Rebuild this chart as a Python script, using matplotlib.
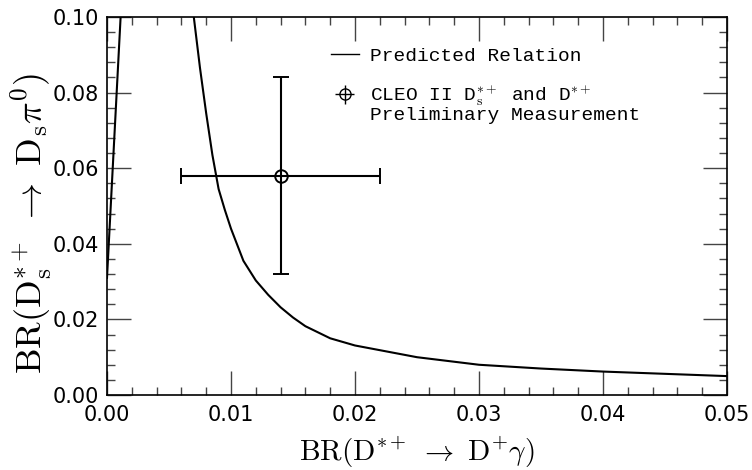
import numpy as np
import matplotlib
matplotlib.use('Agg')
import matplotlib.pyplot as plt
from matplotlib.lines import Line2D


# ------- Data -------

# predicted relation, low branch (near x = 0)
x_low = [0.0, 0.00115]
y_low = [0.031, 0.1033]

# predicted relation, main branch
x_pred = [0.0069, 0.0070, 0.0075, 0.0080, 0.0085, 0.0090, 0.0095, 0.0100,
          0.0110, 0.0120, 0.0130, 0.0140, 0.0150, 0.0160, 0.0180, 0.0200,
          0.0250, 0.0300, 0.0350, 0.0400, 0.0450, 0.0500]
y_pred = [0.1027, 0.1000, 0.0865, 0.0745, 0.0635, 0.0545, 0.0490, 0.0440,
          0.0355, 0.0303, 0.0265, 0.0232, 0.0205, 0.0182, 0.0150, 0.0131,
          0.0100, 0.0080, 0.0070, 0.0062, 0.0056, 0.0050]

# CLEO II measurement
x_meas = [0.014]
y_meas = [0.058]
x_err = [0.008]
y_err = [0.026]

x_ticks = [0.00, 0.01, 0.02, 0.03, 0.04, 0.05]
y_ticks = [0.00, 0.02, 0.04, 0.06, 0.08, 0.10]


# ------- Figure -------

plt.rcParams['mathtext.fontset'] = 'cm'
plt.rcParams['font.family'] = 'DejaVu Sans'

fig = plt.figure(figsize=(7.52, 4.70), dpi=100)
ax = fig.add_axes([107/752, 75/470, 620/752, 378/470])

ax.plot(x_low, y_low, color='black', linewidth=1.5)
ax.plot(x_pred, y_pred, color='black', linewidth=1.5)

ax.errorbar(x_meas, y_meas, xerr=x_err, yerr=y_err, fmt='o', color='black',
            mfc='none', mec='black', ms=9, mew=1.4, elinewidth=1.5,
            capsize=6, capthick=1.5)

ax.set_xlim(0, 0.05)
ax.set_ylim(0, 0.10)
ax.set_xticks(x_ticks)
ax.set_yticks(y_ticks)
ax.set_xticklabels(['%.2f' % v for v in x_ticks])
ax.set_yticklabels(['%.2f' % v for v in y_ticks])
ax.set_xticks(np.arange(0, 0.0501, 0.002), minor=True)
ax.set_yticks(np.arange(0, 0.1001, 0.004), minor=True)

ax.tick_params(which='both', direction='in', top=True, right=True, color='#444444')
ax.tick_params(which='major', length=17, width=1.0, labelsize=15)
ax.tick_params(which='minor', length=6, width=1.0)
ax.tick_params(axis='x', which='major', pad=7)
ax.tick_params(axis='y', which='major', pad=6)
for s in ax.spines.values():
    s.set_linewidth(1.2)

ax.set_xlabel(r'$\mathrm{BR(D^{*+}\ \rightarrow\ D^{+}\gamma)}$', fontsize=21)
ax.xaxis.set_label_coords(0.5, -0.106)
ax.xaxis.label.set_va('top')
ax.set_ylabel(r'$\mathrm{BR(D_s^{*+}\ \rightarrow\ D_s\pi^0)}$', fontsize=26)
ax.yaxis.set_label_coords(-0.086, 0.452)
ax.yaxis.label.set_va('bottom')


# ------- Legend -------

h_line = Line2D([], [], color='black', linewidth=1.0)
h_err = ax.errorbar([], [], xerr=[], yerr=[], fmt='o', color='black', mfc='none',
                    mec='black', ms=8, mew=1.0, elinewidth=1.0, capsize=5, capthick=1.0)
leg = ax.legend([h_line, h_err],
                ['Predicted Relation', r'CLEO II D$_\mathrm{s}^{*+}$ and D$^{*+}$'],
                loc='upper left', bbox_to_anchor=(0.345, 0.945), frameon=False,
                prop={'family': 'Liberation Mono', 'size': 14},
                handlelength=1.45, handletextpad=0.6, labelspacing=0.9, borderpad=0)
ax.text(0.424, 0.727, 'Preliminary Measurement', transform=ax.transAxes,
        family='Liberation Mono', fontsize=14, va='baseline', ha='left')

plt.savefig('out.png', dpi=100)
